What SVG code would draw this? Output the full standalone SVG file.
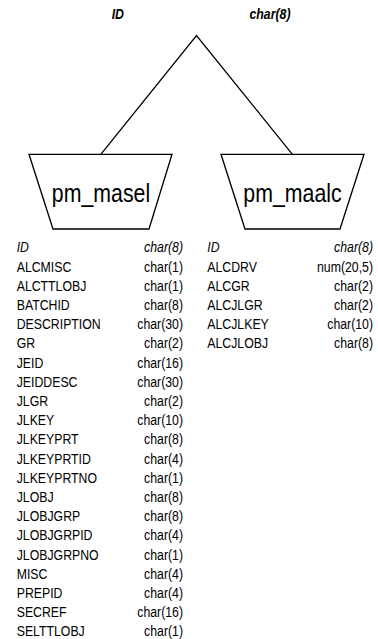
<svg xmlns="http://www.w3.org/2000/svg" width="378" height="639" viewBox="0 0 378 639">
<style>
.t{font-family:"Liberation Sans",Arial,sans-serif;font-size:15px;fill:#000}
.k{font-style:italic}
.h{font-style:italic;font-weight:bold}
.n{font-family:"Liberation Sans",Arial,sans-serif;font-size:26px;fill:#000}
.e{text-anchor:end}
.m{text-anchor:middle}
.s{fill:#fff;stroke:#000;stroke-width:1.3}
.c{fill:none;stroke:#000;stroke-width:1.3}
</style>
<rect width="378" height="639" fill="#fff"/>
<g id="key">
<g transform="translate(111.7,18.5) scale(0.82,1)"><text class="t h" x="0" y="0">ID</text></g>
<g transform="translate(290.5,18.5) scale(0.82,1)"><text class="t h e" x="0" y="0">char(8)</text></g>
</g>
<g id="connectors">
<polyline class="c" points="100.8,154.3 196.5,35.5 292.4,154.3"/>
</g>
<g id="pm_masel">
<polygon class="s" points="29,154.3 172,154.3 149,229 53,229"/>
<g transform="translate(101,202) scale(0.82,1)"><text class="n m" x="0" y="0">pm_masel</text></g>
<g transform="translate(16.7,0) scale(0.82,1)">
<text class="t k" x="0" y="252.5">ID</text>
<text class="t" x="0" y="271.7">ALCMISC</text>
<text class="t" x="0" y="290.9">ALCTTLOBJ</text>
<text class="t" x="0" y="310.1">BATCHID</text>
<text class="t" x="0" y="329.3">DESCRIPTION</text>
<text class="t" x="0" y="348.5">GR</text>
<text class="t" x="0" y="367.7">JEID</text>
<text class="t" x="0" y="386.9">JEIDDESC</text>
<text class="t" x="0" y="406.1">JLGR</text>
<text class="t" x="0" y="425.3">JLKEY</text>
<text class="t" x="0" y="444.5">JLKEYPRT</text>
<text class="t" x="0" y="463.7">JLKEYPRTID</text>
<text class="t" x="0" y="482.9">JLKEYPRTNO</text>
<text class="t" x="0" y="502.1">JLOBJ</text>
<text class="t" x="0" y="521.3">JLOBJGRP</text>
<text class="t" x="0" y="540.5">JLOBJGRPID</text>
<text class="t" x="0" y="559.7">JLOBJGRPNO</text>
<text class="t" x="0" y="578.9">MISC</text>
<text class="t" x="0" y="598.1">PREPID</text>
<text class="t" x="0" y="617.3">SECREF</text>
<text class="t" x="0" y="636.5">SELTTLOBJ</text>
</g>
<g transform="translate(183,0) scale(0.82,1)">
<text class="t k e" x="0" y="252.5">char(8)</text>
<text class="t e" x="0" y="271.7">char(1)</text>
<text class="t e" x="0" y="290.9">char(1)</text>
<text class="t e" x="0" y="310.1">char(8)</text>
<text class="t e" x="0" y="329.3">char(30)</text>
<text class="t e" x="0" y="348.5">char(2)</text>
<text class="t e" x="0" y="367.7">char(16)</text>
<text class="t e" x="0" y="386.9">char(30)</text>
<text class="t e" x="0" y="406.1">char(2)</text>
<text class="t e" x="0" y="425.3">char(10)</text>
<text class="t e" x="0" y="444.5">char(8)</text>
<text class="t e" x="0" y="463.7">char(4)</text>
<text class="t e" x="0" y="482.9">char(1)</text>
<text class="t e" x="0" y="502.1">char(8)</text>
<text class="t e" x="0" y="521.3">char(8)</text>
<text class="t e" x="0" y="540.5">char(4)</text>
<text class="t e" x="0" y="559.7">char(1)</text>
<text class="t e" x="0" y="578.9">char(4)</text>
<text class="t e" x="0" y="598.1">char(4)</text>
<text class="t e" x="0" y="617.3">char(16)</text>
<text class="t e" x="0" y="636.5">char(1)</text>
</g>
</g>
<g id="pm_maalc">
<polygon class="s" points="221,154.3 364,154.3 340,229 245,229"/>
<g transform="translate(292.5,202) scale(0.82,1)"><text class="n m" x="0" y="0">pm_maalc</text></g>
<g transform="translate(207.3,0) scale(0.82,1)">
<text class="t k" x="0" y="252.5">ID</text>
<text class="t" x="0" y="271.7">ALCDRV</text>
<text class="t" x="0" y="290.9">ALCGR</text>
<text class="t" x="0" y="310.1">ALCJLGR</text>
<text class="t" x="0" y="329.3">ALCJLKEY</text>
<text class="t" x="0" y="348.5">ALCJLOBJ</text>
</g>
<g transform="translate(373,0) scale(0.82,1)">
<text class="t k e" x="0" y="252.5">char(8)</text>
<text class="t e" x="0" y="271.7">num(20,5)</text>
<text class="t e" x="0" y="290.9">char(2)</text>
<text class="t e" x="0" y="310.1">char(2)</text>
<text class="t e" x="0" y="329.3">char(10)</text>
<text class="t e" x="0" y="348.5">char(8)</text>
</g>
</g>
</svg>
